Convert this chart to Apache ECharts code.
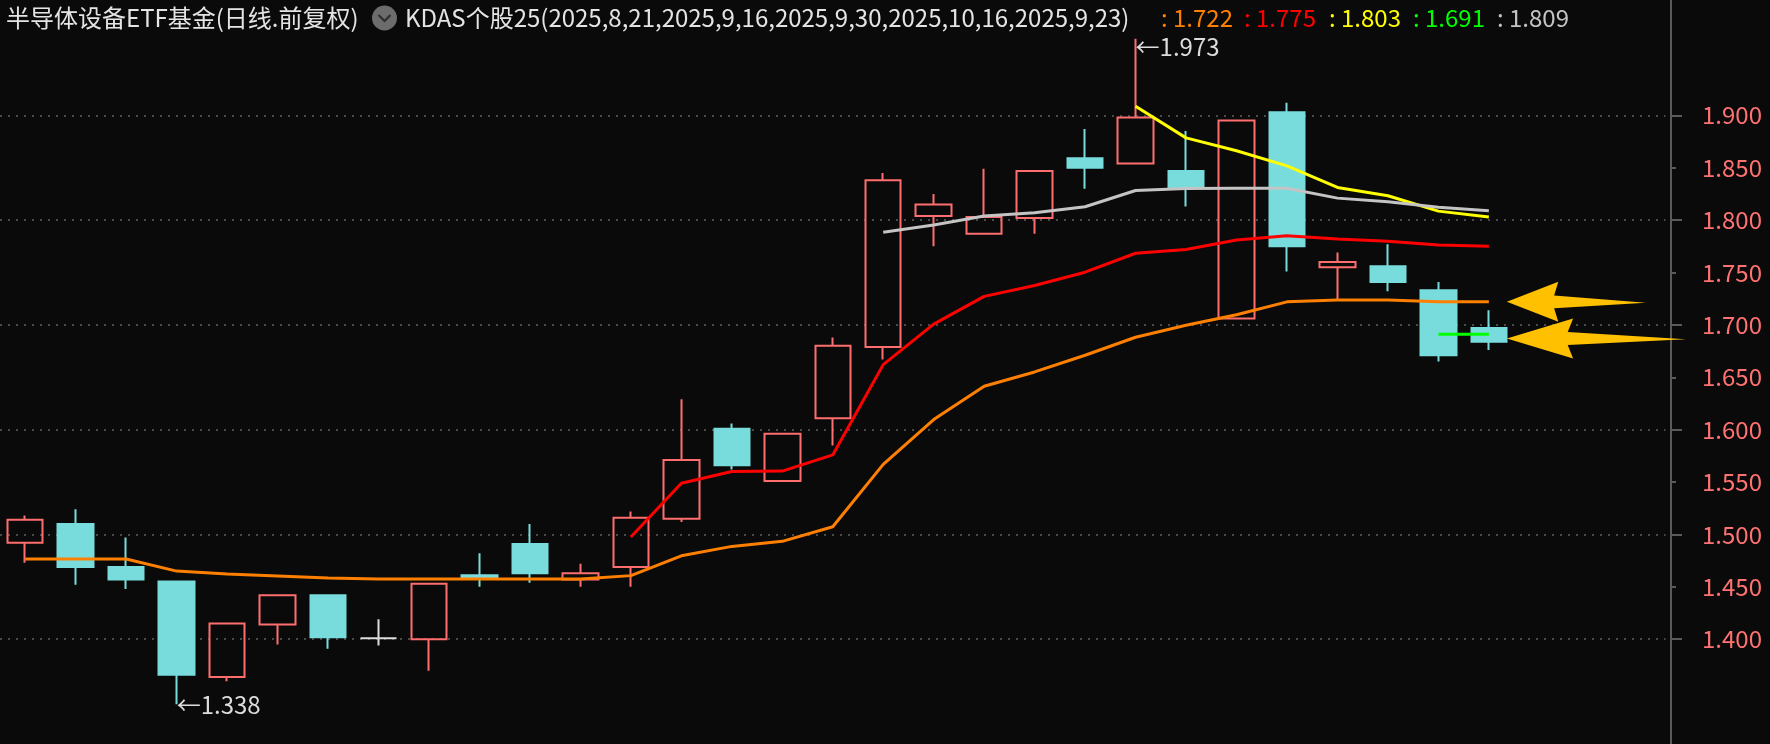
<!DOCTYPE html>
<html>
<head>
<meta charset="utf-8">
<script src="https://cdn.jsdelivr.net/npm/echarts@6/dist/echarts.min.js"></script>
<style>
html,body{margin:0;padding:0;background:#0a0a0a;}
#chart{width:1770px;height:744px;}
</style>
</head>
<body>
<div id="chart"></div>
<script>
// ---------- data ----------
const categories = [
  '2025-08-29','2025-09-01','2025-09-02','2025-09-03','2025-09-04','2025-09-05',
  '2025-09-08','2025-09-09','2025-09-10','2025-09-11','2025-09-12','2025-09-15',
  '2025-09-16','2025-09-17','2025-09-18','2025-09-19','2025-09-22','2025-09-23',
  '2025-09-24','2025-09-25','2025-09-26','2025-09-29','2025-09-30','2025-10-09',
  '2025-10-10','2025-10-13','2025-10-14','2025-10-15','2025-10-16','2025-10-17',
  '', '', ''
];
// [open, close, low, high]
const ohlc = [
  [1.492,1.514,1.473,1.518],
  [1.510,1.469,1.452,1.524],
  [1.469,1.457,1.448,1.497],
  [1.455,1.366,1.338,1.455],
  [1.364,1.415,1.360,1.415],
  [1.414,1.442,1.395,1.442],
  [1.442,1.402,1.391,1.442],
  [1.401,1.401,1.394,1.419],
  [1.400,1.453,1.370,1.453],
  [1.461,1.459,1.450,1.482],
  [1.491,1.463,1.454,1.510],
  [1.457,1.463,1.450,1.472],
  [1.469,1.516,1.450,1.522],
  [1.515,1.571,1.512,1.629],
  [1.601,1.566,1.562,1.606],
  [1.551,1.596,1.551,1.596],
  [1.611,1.680,1.585,1.688],
  [1.679,1.838,1.667,1.845],
  [1.804,1.815,1.775,1.825],
  [1.787,1.803,1.787,1.849],
  [1.802,1.847,1.787,1.847],
  [1.859,1.850,1.830,1.887],
  [1.854,1.898,1.854,1.973],
  [1.847,1.831,1.813,1.885],
  [1.706,1.895,1.706,1.895],
  [1.903,1.775,1.751,1.912],
  [1.755,1.760,1.724,1.769],
  [1.756,1.741,1.732,1.777],
  [1.733,1.671,1.665,1.741],
  [1.697,1.684,1.676,1.714]
];
const _ = null;
const kdasOrange = [1.4765,1.4765,1.4765,1.4650,1.4622,1.4603,1.4584,1.4575,1.4575,1.4575,
  1.4575,1.4575,1.4607,1.4796,1.4886,1.4934,1.5073,1.5669,1.6097,1.6415,
  1.6551,1.6710,1.6882,1.6996,1.7097,1.7220,1.7237,1.7237,1.7220,1.7220];
const kdasRed = [_,_,_,_,_,_,_,_,_,_,_,_,
  1.4975,1.5488,1.5600,1.5605,1.5759,1.6621,1.7008,1.7272,1.7376,1.7503,
  1.7684,1.7719,1.7810,1.7852,1.7820,1.7798,1.7763,1.7750];
const kdasYellow = [_,_,_,_,_,_,_,_,_,_,_,_,_,_,_,_,_,_,_,_,_,_,
  1.9086,1.8785,1.8662,1.8518,1.8312,1.8233,1.8086,1.8030];
const kdasGreen = [_,_,_,_,_,_,_,_,_,_,_,_,_,_,_,_,_,_,_,_,_,_,_,_,_,_,_,_,
  1.6910,1.6910];
const kdasGray = [_,_,_,_,_,_,_,_,_,_,_,_,_,_,_,_,_,
  1.7884,1.7953,1.8039,1.8071,1.8128,1.8283,1.8302,1.8305,1.8305,1.8210,1.8176,1.8122,1.8090];
const anchorDates = ['2025,8,21','2025,9,16','2025,9,30','2025,10,16','2025,9,23'];
const yLabelTicks = [1.40,1.45,1.50,1.55,1.60,1.65,1.70,1.75,1.80,1.85,1.90];
const yMajorTicks = [1.40,1.50,1.60,1.70,1.80,1.90];
const yMinorTicks = [1.45,1.55,1.65,1.75,1.85];
const arrowLevels = [1.722, 1.687];
const titleText = '半导体设备ETF基金(日线.前复权)';

// ---------- styles ----------
const FONT = '"Noto Sans CJK SC", "Noto Sans", sans-serif';
const UP = '#ff6e6e', DOWN = '#78dcdc', DOJI = '#dcdcdc';
const lineColors = ['#ff8000','#ff0000','#ffff00','#00ff00','#c4c4c4'];
const lines = [kdasOrange, kdasRed, kdasYellow, kdasGreen, kdasGray];

const candleData = ohlc.map(d => {
  if (d[0] === d[1]) {
    return {value: d, itemStyle: {color: DOJI, color0: DOJI, borderColor: DOJI, borderColor0: DOJI}};
  }
  return d;
});

let hiIdx = 0, loIdx = 0;
ohlc.forEach((d, i) => { if (d[3] > ohlc[hiIdx][3]) hiIdx = i; if (d[2] < ohlc[loIdx][2]) loIdx = i; });
const lastIdx = ohlc.length - 1;

function lastVal(arr) { for (let i = arr.length - 1; i >= 0; i--) if (arr[i] != null) return arr[i]; return null; }

const arrowPath = 'path://M0,50 L37,0 L34,34 L100,52 L34,66 L37,100 Z';

const chart = echarts.init(document.getElementById('chart'), null, {renderer: 'canvas'});

const graphics = [
  {type: 'text', x: 6, y: 18, style: {text: titleText, fill: '#e4e4e4', font: '24px ' + FONT, verticalAlign: 'middle'}},
  {type: 'circle', shape: {cx: 384.5, cy: 18, r: 12.5}, style: {fill: '#6c6c6c'}},
  {type: 'polyline', shape: {points: [[378.5, 15], [384.5, 21], [390.5, 15]]}, style: {stroke: '#2e2e2e', lineWidth: 2.2, fill: null}},
  {type: 'text', x: 405, y: 18, style: {text: 'KDAS个股25(' + anchorDates.join(',') + ')', fill: '#e4e4e4', font: '24px ' + FONT, verticalAlign: 'middle'}}
];
const valueX = [1161, 1244, 1329, 1413, 1497];
lines.forEach((arr, i) => {
  graphics.push({type: 'text', x: valueX[i], y: 18, style: {text: ': ' + lastVal(arr).toFixed(3), fill: lineColors[i], font: '24px ' + FONT, verticalAlign: 'middle'}});
});

const lineSeries = lines.map((arr, i) => ({
  type: 'line',
  data: arr,
  symbol: 'none',
  connectNulls: false,
  lineStyle: {color: lineColors[i], width: 3},
  z: 5 + i,
  silent: true
}));

const option = {
  backgroundColor: '#0a0a0a',
  animation: false,
  grid: {left: -4.3, top: 0.1, width: 1669.8, height: 747.1, containLabel: false},
  xAxis: {
    type: 'category', data: categories, boundaryGap: true,
    axisLine: {show: false}, axisTick: {show: false}, axisLabel: {show: false}, splitLine: {show: false}
  },
  yAxis: [
    {
      type: 'value', position: 'right', offset: 5.5, min: 1.3, max: 2.01, interval: 0.1, scale: true,
      axisLine: {show: true, lineStyle: {color: '#5a5a5a', width: 2}},
      axisTick: {show: true, length: 11, lineStyle: {color: '#5a5a5a', width: 2}, customValues: yMajorTicks},
      axisLabel: {show: false},
      splitLine: {show: false}
    },
    {
      type: 'value', position: 'right', offset: 5.5, min: 1.3, max: 2.01, interval: 0.05, scale: true,
      axisLine: {show: false},
      axisTick: {show: true, length: 5, lineStyle: {color: '#5a5a5a', width: 2}, customValues: yMinorTicks},
      axisLabel: {
        show: true, margin: 31, align: 'left', color: '#ff7272', fontSize: 24, fontFamily: FONT,
        customValues: yLabelTicks,
        formatter: v => (v >= 1.3999 && v <= 1.9001) ? v.toFixed(3) : ''
      },
      splitLine: {show: false}
    }
  ],
  series: [
    {
      type: 'candlestick',
      data: candleData,
      barWidth: 36,
      z: 2,
      itemStyle: {color: 'transparent', color0: DOWN, borderColor: UP, borderColor0: DOWN, borderWidth: 2},
      markLine: {
        z: 1,
        silent: true, symbol: ['none', 'none'], label: {show: false},
        lineStyle: {type: [2, 6], color: '#4a4a4a', width: 2},
        emphasis: {disabled: true},
        data: yMajorTicks.map(v => ({yAxis: v}))
      },
      markPoint: {
        silent: true,
        z: 20,
        data: [
          {coord: [hiIdx, ohlc[hiIdx][3]], symbol: 'circle', symbolSize: 0,
            label: {show: true, position: 'right', distance: 0, offset: [0, 8], formatter: '←' + ohlc[hiIdx][3].toFixed(3), color: '#dcdcdc', fontSize: 24, fontFamily: FONT}},
          {coord: [loIdx, ohlc[loIdx][2]], symbol: 'circle', symbolSize: 0,
            label: {show: true, position: 'right', distance: 0, offset: [0, 1], formatter: '←' + ohlc[loIdx][2].toFixed(3), color: '#dcdcdc', fontSize: 24, fontFamily: FONT}},
          {coord: [lastIdx, arrowLevels[0]], symbol: arrowPath, symbolSize: [139, 40], symbolKeepAspect: false,
            symbolOffset: [87.5, 0], itemStyle: {color: '#ffc000'}, label: {show: false}},
          {coord: [lastIdx, arrowLevels[1]], symbol: arrowPath, symbolSize: [179, 40], symbolKeepAspect: false,
            symbolOffset: [107.5, 0], itemStyle: {color: '#ffc000'}, label: {show: false}}
        ]
      }
    }
  ].concat(lineSeries),
  graphic: graphics
};
chart.setOption(option);
</script>
</body>
</html>
